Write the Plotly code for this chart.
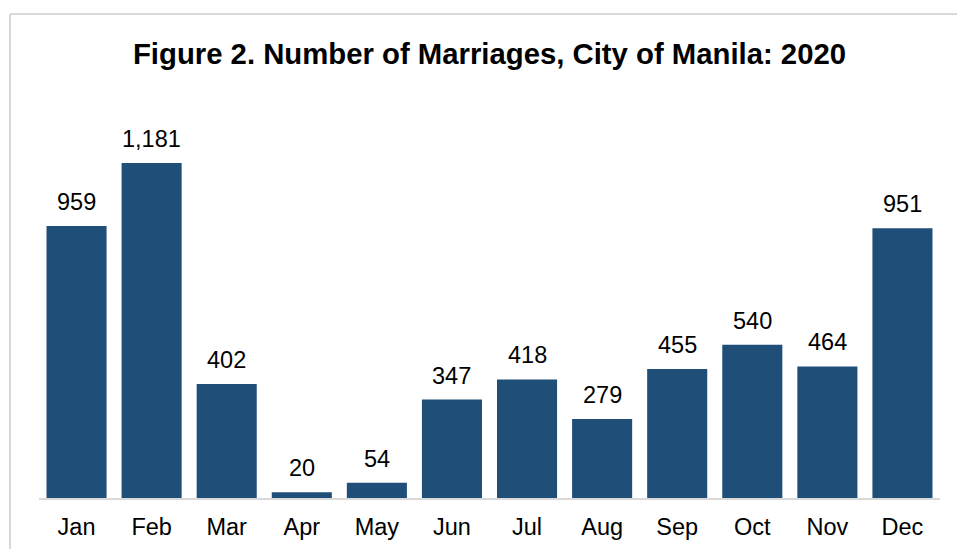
import plotly.graph_objects as go

months = ["Jan", "Feb", "Mar", "Apr", "May", "Jun", "Jul", "Aug", "Sep", "Oct", "Nov", "Dec"]
marriages = [959, 1181, 402, 20, 54, 347, 418, 279, 455, 540, 464, 951]

W, H = 957, 549
L, R, T, B = 39, 17, 101, 51
pw, ph = W - L - R, H - T - B
FONT = "Liberation Sans, Arial"

def px(x):
    return (x - L) / pw

def py(y):
    return (H - B - y) / ph

fig = go.Figure(go.Bar(
    x=months, y=marriages,
    marker=dict(color="#1f4e79", line=dict(width=0)),
    hoverinfo="x+y",
))

for m, v in zip(months, marriages):
    fig.add_annotation(x=m, y=v, text=f"{v:,}", showarrow=False,
                       yanchor="bottom", yshift=9,
                       font=dict(family=FONT, size=23.5, color="#000000"))

fig.update_layout(
    width=W, height=H,
    margin=dict(l=L, r=R, t=T, b=B, autoexpand=False),
    paper_bgcolor="white", plot_bgcolor="white",
    bargap=0.2,
    showlegend=False,
    title=dict(text="<b>Figure 2. Number of Marriages, City of Manila: 2020</b>",
               x=0.5, xref="paper", xanchor="center", y=1 - 54 / H, yanchor="middle",
               font=dict(family=FONT, size=29.3, color="#000000")),
    xaxis=dict(showline=True, linecolor="#d9d9d9", linewidth=2, ticks="",
               tickfont=dict(family=FONT, size=23.5, color="#000000"),
               ticklabelstandoff=7, showgrid=False, automargin=False),
    yaxis=dict(range=[0, 1400], visible=False, showgrid=False, automargin=False),
    shapes=[
        dict(type="line", xref="paper", yref="paper", x0=px(10), x1=px(W + 5), y0=py(14), y1=py(14),
             line=dict(color="#d9d9d9", width=2)),
        dict(type="line", xref="paper", yref="paper", x0=px(10), x1=px(10), y0=py(14), y1=py(H + 5),
             line=dict(color="#d9d9d9", width=2)),
    ],
)

fig.write_html("out.html")
